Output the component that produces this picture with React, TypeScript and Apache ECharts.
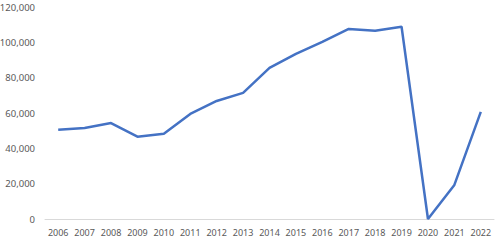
import React, { useEffect, useRef } from "react";
import * as echarts from "echarts";

const years = ["2006","2007","2008","2009","2010","2011","2012","2013","2014","2015","2016","2017","2018","2019","2020","2021","2022"];
const values = [50500, 51500, 54300, 46600, 48200, 59500, 66800, 71400, 85500, 93500, 100300, 107600, 106500, 108800, 0, 19300, 60600];

export default function App() {
  const ref = useRef<HTMLDivElement>(null);
  useEffect(() => {
    const chart = echarts.init(ref.current!, null, { renderer: "svg" });
    chart.setOption({
      animation: false,
      grid: { left: 45, right: 6, top: 7, bottom: 22, outerBoundsMode: "none", containLabel: false },
      xAxis: {
        type: "category",
        data: years,
        boundaryGap: true,
        axisLine: { lineStyle: { color: "#D9D9D9", width: 1 } },
        axisTick: { show: false },
        axisLabel: { color: "#595959", fontSize: 9, fontFamily: "Noto Sans", margin: 9, interval: 0 },
      },
      yAxis: {
        type: "value",
        min: 0,
        max: 120000,
        interval: 20000,
        splitLine: { show: false },
        axisLine: { show: false },
        axisTick: { show: false },
        axisLabel: {
          color: "#595959",
          fontSize: 9.5,
          fontFamily: "Noto Sans",
          margin: 10,
          formatter: (v: number) => v.toLocaleString("en-US"),
        },
      },
      series: [
        {
          type: "line",
          data: values,
          symbol: "none",
          lineStyle: { color: "#4472C4", width: 2.5 },
        },
      ],
    });
    return () => chart.dispose();
  }, []);
  return <div ref={ref} style={{ width: 500, height: 241, position: "absolute", left: 0, top: 0 }} />;
}
